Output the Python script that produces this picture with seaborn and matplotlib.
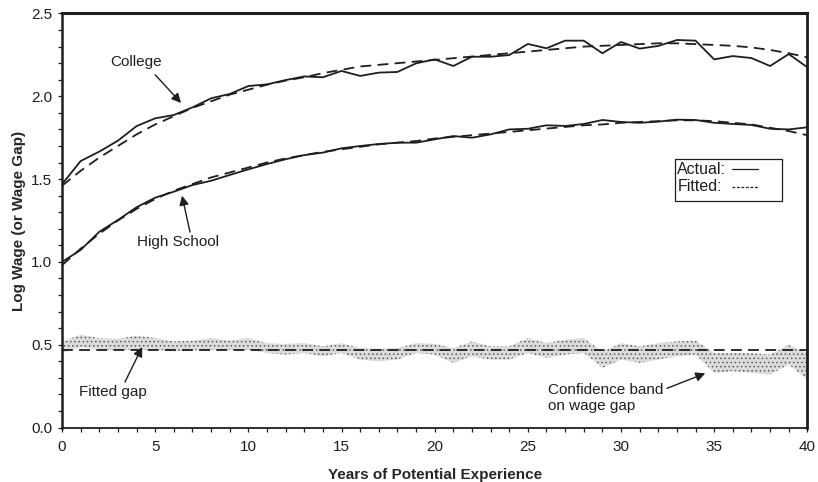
import numpy as np
import pandas as pd
import matplotlib
matplotlib.use("Agg")
import matplotlib.pyplot as plt
from matplotlib.lines import Line2D
from matplotlib.patches import Rectangle
from matplotlib.ticker import MultipleLocator, FormatStrFormatter
import seaborn as sns

# Years of potential experience
experience = list(range(0, 41))

# Mean log wages by experience
college_actual = [1.469, 1.609, 1.666, 1.732, 1.820, 1.867, 1.887, 1.933, 1.988, 2.014,
                  2.062, 2.072, 2.098, 2.120, 2.115, 2.153, 2.123, 2.143, 2.147, 2.199,
                  2.223, 2.183, 2.239, 2.239, 2.249, 2.316, 2.290, 2.336, 2.336, 2.260,
                  2.328, 2.288, 2.304, 2.340, 2.336, 2.223, 2.243, 2.231, 2.183, 2.255,
                  2.175]
college_fitted = [1.460, 1.550, 1.630, 1.700, 1.770, 1.830, 1.880, 1.930, 1.970, 2.010,
                  2.040, 2.070, 2.095, 2.115, 2.140, 2.160, 2.180, 2.190, 2.200, 2.210,
                  2.220, 2.230, 2.240, 2.250, 2.260, 2.270, 2.280, 2.290, 2.300, 2.305,
                  2.310, 2.315, 2.320, 2.320, 2.315, 2.310, 2.305, 2.295, 2.280, 2.260,
                  2.235]
hs_actual = [1.000, 1.072, 1.182, 1.253, 1.330, 1.388, 1.424, 1.464, 1.490, 1.525,
             1.559, 1.591, 1.620, 1.645, 1.660, 1.686, 1.700, 1.712, 1.720, 1.720,
             1.740, 1.760, 1.750, 1.770, 1.800, 1.804, 1.825, 1.821, 1.833, 1.857,
             1.845, 1.840, 1.847, 1.859, 1.857, 1.840, 1.833, 1.827, 1.804, 1.800,
             1.813]
hs_fitted = [0.980, 1.080, 1.170, 1.250, 1.320, 1.380, 1.430, 1.470, 1.510, 1.540,
             1.570, 1.600, 1.625, 1.645, 1.665, 1.680, 1.695, 1.710, 1.720, 1.730,
             1.745, 1.755, 1.765, 1.775, 1.785, 1.795, 1.805, 1.815, 1.825, 1.830,
             1.840, 1.845, 1.850, 1.855, 1.855, 1.850, 1.840, 1.830, 1.810, 1.790,
             1.765]

# Confidence band on the college / high-school wage gap
gap_upper = [0.520, 0.560, 0.540, 0.535, 0.555, 0.540, 0.520, 0.525, 0.540, 0.525,
             0.540, 0.510, 0.505, 0.510, 0.490, 0.510, 0.480, 0.475, 0.480, 0.510,
             0.505, 0.480, 0.520, 0.490, 0.490, 0.540, 0.510, 0.530, 0.540, 0.460,
             0.510, 0.490, 0.510, 0.520, 0.525, 0.450, 0.450, 0.450, 0.440, 0.500,
             0.450]
gap_lower = [0.450, 0.485, 0.470, 0.470, 0.470, 0.470, 0.460, 0.465, 0.470, 0.470,
             0.470, 0.450, 0.440, 0.450, 0.430, 0.450, 0.410, 0.400, 0.410, 0.450,
             0.440, 0.390, 0.430, 0.410, 0.410, 0.450, 0.420, 0.440, 0.450, 0.360,
             0.410, 0.390, 0.410, 0.430, 0.440, 0.330, 0.340, 0.330, 0.320, 0.380,
             0.290]
fitted_gap = [0.47] * len(experience)

df = pd.DataFrame({
    "exp": experience,
    "college_actual": college_actual,
    "college_fitted": college_fitted,
    "hs_actual": hs_actual,
    "hs_fitted": hs_fitted,
    "gap_lo": gap_lower,
    "gap_hi": gap_upper,
    "gap_fit": fitted_gap,
})

sns.set_theme(style="ticks")
plt.rcParams["font.family"] = ["Liberation Sans", "DejaVu Sans"]
plt.rcParams["hatch.color"] = "#5a5a5a"
plt.rcParams["hatch.linewidth"] = 0.6

ink = "#1e1e1e"
dash = (6, 3.5)

fig = plt.figure(figsize=(8.18, 4.82), dpi=100)
ax = fig.add_axes([0.0758, 0.113, 0.9112, 0.859])

# Stippled confidence band
ax.fill_between(df["exp"], df["gap_lo"], df["gap_hi"], facecolor="#dcdcdc",
                edgecolor="#5a5a5a", linewidth=0, hatch="....", zorder=1)

# Actual (solid) and fitted (dashed) profiles
for col in ["college_actual", "hs_actual"]:
    sns.lineplot(data=df, x="exp", y=col, ax=ax, color=ink, lw=1.3, zorder=3)
for col in ["college_fitted", "hs_fitted", "gap_fit"]:
    sns.lineplot(data=df, x="exp", y=col, ax=ax, color=ink, lw=1.3, zorder=3)
    ax.lines[-1].set_dashes(dash)

ax.set_xlim(0, 40)
ax.set_ylim(0.0, 2.5)
ax.xaxis.set_major_locator(MultipleLocator(5))
ax.xaxis.set_minor_locator(MultipleLocator(1))
ax.yaxis.set_major_locator(MultipleLocator(0.5))
ax.yaxis.set_minor_locator(MultipleLocator(0.1))
ax.yaxis.set_major_formatter(FormatStrFormatter("%.1f"))
ax.tick_params(which="both", direction="out", colors=ink, width=0.9,
               labelsize=11, top=False, right=False)
ax.tick_params(which="both", length=3)
ax.tick_params(axis="x", which="major", pad=6)
ax.tick_params(axis="y", which="major", pad=4)

for side, w in {"left": 1.8, "top": 2.2, "right": 2.0, "bottom": 1.3}.items():
    ax.spines[side].set_visible(True)
    ax.spines[side].set_linewidth(w)
    ax.spines[side].set_color(ink)

ax.set_xlabel("Years of Potential Experience", fontsize=11, fontweight="bold",
              labelpad=10)
ax.set_ylabel("Log Wage (or Wage Gap)", fontsize=11, fontweight="bold", labelpad=4)

arrow = dict(arrowstyle="-|>", color=ink, lw=1.0, mutation_scale=14,
             shrinkA=0, shrinkB=0)
ax.annotate("", xy=(6.39, 1.96), xytext=(5.0, 2.13), arrowprops=arrow)
ax.text(4.0, 2.21, "College", fontsize=11, ha="center", va="center", color=ink)

ax.annotate("", xy=(6.44, 1.40), xytext=(6.87, 1.18), arrowprops=arrow)
ax.text(6.23, 1.12, "High School", fontsize=11, ha="center", va="center", color=ink)

ax.annotate("", xy=(4.3, 0.486), xytext=(3.38, 0.275), arrowprops=arrow)
ax.text(2.74, 0.215, "Fitted gap", fontsize=11, ha="center", va="center", color=ink)

ax.annotate("", xy=(34.52, 0.327), xytext=(32.47, 0.237), arrowprops=arrow)
ax.text(26.1, 0.178, "Confidence band\non wage gap", fontsize=11, ha="left",
        va="center", color=ink, linespacing=1.15)

# Key box: label followed by a line sample
t = ax.transAxes
ax.add_patch(Rectangle((0.8223, 0.547), 0.1435, 0.1016, transform=t, fill=False,
                       edgecolor=ink, lw=0.9, zorder=4))
ax.text(0.8255, 0.624, "Actual:", transform=t, fontsize=11.5, ha="left",
        va="center", color=ink, zorder=5)
ax.text(0.8255, 0.581, "Fitted:", transform=t, fontsize=11.5, ha="left",
        va="center", color=ink, zorder=5)
ax.add_line(Line2D([0.899, 0.934], [0.624, 0.624], transform=t, color=ink,
                   lw=0.9, zorder=5))
ax.add_line(Line2D([0.899, 0.934], [0.581, 0.581], transform=t, color=ink,
                   lw=0.9, dashes=(2.2, 1.4), zorder=5))

fig.savefig("out.png", dpi=100)
